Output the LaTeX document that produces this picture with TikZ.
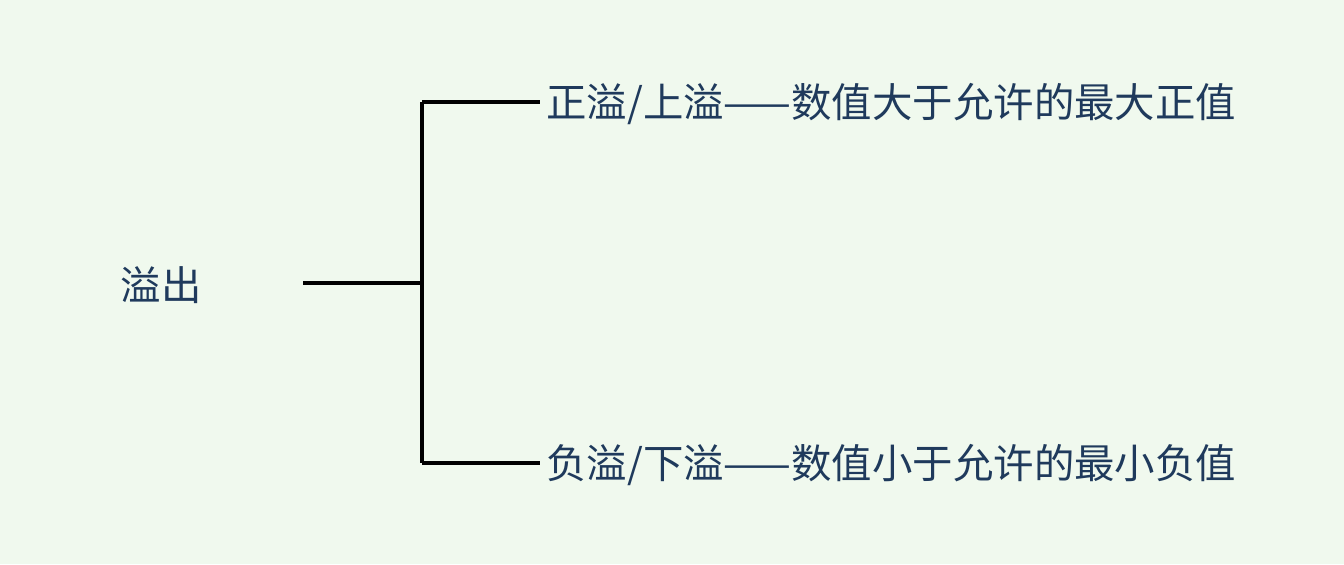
\documentclass[tikz,border=0pt]{standalone}
\usepackage{fontspec}
\newfontfamily\cjk{Noto Sans CJK SC}
\definecolor{bg}{HTML}{F0F9EE}
\definecolor{tx}{HTML}{1F3A5C}
\begin{document}
\begin{tikzpicture}[x=0.02cm,y=-0.02cm,
  lbl/.style={font=\cjk\fontsize{23}{26}\selectfont,text=tx,inner sep=0pt},
  br/.style={line width=2pt,black}]
\fill[bg] (0,0) rectangle (1344,564);
\useasboundingbox (0,0) rectangle (1344,564);
\node[lbl] (root) at (161,285) {溢出};
\coordinate (s) at (303,283);
\coordinate (j) at (422,283);
\coordinate (t) at (422,102);
\coordinate (b) at (422,463);
\node[lbl,anchor=west] (up) at (546,104) {正溢/上溢——数值大于允许的最大正值};
\node[lbl,anchor=west] (dn) at (546,465) {负溢/下溢——数值小于允许的最小负值};
\draw[br] (s) -- (j);
\draw[br] (t) -- (b);
\draw[br] (t) -- (540,102);
\draw[br] (b) -- (540,463);
\end{tikzpicture}
\end{document}
